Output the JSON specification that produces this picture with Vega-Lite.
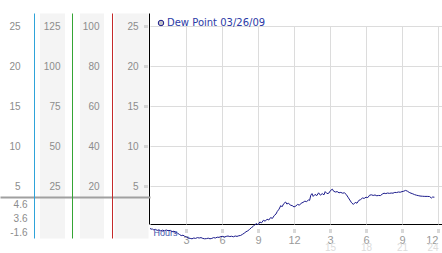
{
  "$schema": "https://vega.github.io/schema/vega-lite/v6.json",
  "width": 292,
  "height": 225,
  "autosize": {"type": "none"},
  "padding": {"left": 150, "top": 13, "right": 0, "bottom": 15},
  "background": "white",
  "config": {
    "view": {"stroke": null},
    "axis": {"labelFont": "Liberation Sans", "titleFont": "Liberation Sans", "labelFontSize": 10, "labelColor": "#8c8c8c", "grid": false, "title": null, "domainColor": "#888888"}
  },
  "datasets": {
    "dew": [
      {"h": 0.0, "v": -0.3}, {"h": 0.1, "v": -0.4}, {"h": 0.2, "v": -0.35}, {"h": 0.3, "v": -0.5}, {"h": 0.45, "v": -0.42},
      {"h": 0.6, "v": -0.55}, {"h": 0.75, "v": -0.48}, {"h": 0.9, "v": -0.62}, {"h": 1.05, "v": -0.52}, {"h": 1.2, "v": -0.6},
      {"h": 1.35, "v": -0.5}, {"h": 1.5, "v": -0.58}, {"h": 1.7, "v": -0.55}, {"h": 1.85, "v": -0.7}, {"h": 2.0, "v": -0.65},
      {"h": 2.15, "v": -0.8}, {"h": 2.3, "v": -0.9}, {"h": 2.45, "v": -1.05}, {"h": 2.6, "v": -1.2}, {"h": 2.75, "v": -1.15},
      {"h": 2.9, "v": -1.3}, {"h": 3.05, "v": -1.4}, {"h": 3.2, "v": -1.5}, {"h": 3.35, "v": -1.55}, {"h": 3.5, "v": -1.6},
      {"h": 3.65, "v": -1.5}, {"h": 3.8, "v": -1.55}, {"h": 3.95, "v": -1.45}, {"h": 4.1, "v": -1.5}, {"h": 4.25, "v": -1.45},
      {"h": 4.4, "v": -1.55}, {"h": 4.55, "v": -1.6}, {"h": 4.7, "v": -1.58}, {"h": 4.85, "v": -1.52}, {"h": 5.0, "v": -1.6},
      {"h": 5.15, "v": -1.55}, {"h": 5.3, "v": -1.45}, {"h": 5.45, "v": -1.5}, {"h": 5.6, "v": -1.4}, {"h": 5.75, "v": -1.42},
      {"h": 5.9, "v": -1.32}, {"h": 6.05, "v": -1.3}, {"h": 6.2, "v": -1.38}, {"h": 6.35, "v": -1.3}, {"h": 6.5, "v": -1.25},
      {"h": 6.65, "v": -1.32}, {"h": 6.8, "v": -1.28}, {"h": 6.95, "v": -1.35}, {"h": 7.1, "v": -1.25}, {"h": 7.25, "v": -1.3},
      {"h": 7.4, "v": -1.22}, {"h": 7.55, "v": -1.18}, {"h": 7.7, "v": -1.05}, {"h": 7.85, "v": -0.9}, {"h": 8.0, "v": -0.72},
      {"h": 8.15, "v": -0.6}, {"h": 8.3, "v": -0.42}, {"h": 8.45, "v": -0.2}, {"h": 8.6, "v": -0.05}, {"h": 8.75, "v": 0.18},
      {"h": 8.9, "v": 0.3}, {"h": 9.0, "v": 0.15}, {"h": 9.15, "v": 0.5}, {"h": 9.3, "v": 0.4}, {"h": 9.45, "v": 0.72},
      {"h": 9.6, "v": 0.6}, {"h": 9.75, "v": 0.85}, {"h": 9.9, "v": 0.75}, {"h": 10.05, "v": 1.05}, {"h": 10.2, "v": 0.95},
      {"h": 10.35, "v": 1.3}, {"h": 10.5, "v": 1.5}, {"h": 10.6, "v": 1.8}, {"h": 10.75, "v": 2.1}, {"h": 10.9, "v": 2.55},
      {"h": 11.0, "v": 2.4}, {"h": 11.15, "v": 2.8}, {"h": 11.3, "v": 3.0}, {"h": 11.4, "v": 2.75}, {"h": 11.55, "v": 2.85},
      {"h": 11.7, "v": 2.6}, {"h": 11.85, "v": 2.55}, {"h": 12.0, "v": 2.38}, {"h": 12.15, "v": 2.5}, {"h": 12.3, "v": 2.7},
      {"h": 12.45, "v": 2.6}, {"h": 12.6, "v": 2.85}, {"h": 12.75, "v": 2.95}, {"h": 12.9, "v": 3.1}, {"h": 13.05, "v": 3.05},
      {"h": 13.2, "v": 3.25}, {"h": 13.3, "v": 3.2}, {"h": 13.4, "v": 3.85}, {"h": 13.5, "v": 4.05}, {"h": 13.6, "v": 3.7},
      {"h": 13.75, "v": 3.95}, {"h": 13.9, "v": 3.8}, {"h": 14.05, "v": 4.15}, {"h": 14.2, "v": 3.85}, {"h": 14.35, "v": 4.05},
      {"h": 14.5, "v": 3.9}, {"h": 14.6, "v": 4.3}, {"h": 14.75, "v": 4.05}, {"h": 14.9, "v": 4.1}, {"h": 15.05, "v": 4.45},
      {"h": 15.2, "v": 4.6}, {"h": 15.3, "v": 4.35}, {"h": 15.45, "v": 4.25}, {"h": 15.6, "v": 4.3}, {"h": 15.75, "v": 4.15},
      {"h": 15.9, "v": 4.2}, {"h": 16.05, "v": 4.1}, {"h": 16.2, "v": 4.15}, {"h": 16.35, "v": 3.95}, {"h": 16.5, "v": 3.6},
      {"h": 16.65, "v": 3.25}, {"h": 16.8, "v": 2.9}, {"h": 16.95, "v": 2.7}, {"h": 17.1, "v": 2.95}, {"h": 17.25, "v": 2.85},
      {"h": 17.4, "v": 3.2}, {"h": 17.55, "v": 3.3}, {"h": 17.7, "v": 3.5}, {"h": 17.85, "v": 3.45}, {"h": 18.0, "v": 3.6},
      {"h": 18.15, "v": 3.55}, {"h": 18.3, "v": 3.85}, {"h": 18.45, "v": 3.9}, {"h": 18.6, "v": 3.82}, {"h": 18.75, "v": 3.88},
      {"h": 18.9, "v": 3.78}, {"h": 19.05, "v": 3.82}, {"h": 19.2, "v": 3.8}, {"h": 19.35, "v": 3.98}, {"h": 19.5, "v": 4.1},
      {"h": 19.65, "v": 4.05}, {"h": 19.8, "v": 4.12}, {"h": 19.95, "v": 4.08}, {"h": 20.1, "v": 4.12}, {"h": 20.25, "v": 4.1},
      {"h": 20.4, "v": 4.2}, {"h": 20.55, "v": 4.18}, {"h": 20.7, "v": 4.25}, {"h": 20.85, "v": 4.22}, {"h": 21.0, "v": 4.3},
      {"h": 21.15, "v": 4.35}, {"h": 21.3, "v": 4.45}, {"h": 21.45, "v": 4.35}, {"h": 21.6, "v": 4.2}, {"h": 21.75, "v": 4.1},
      {"h": 21.9, "v": 4.02}, {"h": 22.05, "v": 3.92}, {"h": 22.2, "v": 3.85}, {"h": 22.35, "v": 3.8}, {"h": 22.5, "v": 3.75},
      {"h": 22.7, "v": 3.72}, {"h": 22.9, "v": 3.7}, {"h": 23.1, "v": 3.7}, {"h": 23.3, "v": 3.68}, {"h": 23.45, "v": 3.5},
      {"h": 23.55, "v": 3.62}, {"h": 23.7, "v": 3.6}
    ]
  },
  "data": {"name": "dew"},
  "resolve": {"axis": {"x": "independent", "y": "independent"}},
  "layer": [
    {
      "mark": {"type": "line", "opacity": 0},
      "encoding": {
        "x": {"field": "h", "type": "quantitative", "scale": {"domain": [0, 24.333], "nice": false, "zero": false},
              "axis": {"orient": "bottom", "offset": -14, "domainColor": "#000000", "domainWidth": 1, "values": [0], "tickSize": -211, "tickColor": "#000000", "tickOffset": -1, "labels": false, "grid": false, "title": null}},
        "y": {"field": "v", "type": "quantitative", "scale": {"domain": [-1.5, 26.625], "nice": false, "zero": false},
              "axis": {"orient": "left", "offset": 98, "domainColor": "#f4f4f4", "domainWidth": 25, "ticks": false, "labels": false, "grid": false, "title": null}}
      }
    },
    {
      "mark": {"type": "line", "opacity": 0},
      "encoding": {
        "x": {"field": "h", "type": "quantitative", "scale": {"domain": [0, 24.333], "nice": false, "zero": false},
              "axis": {"orient": "bottom", "offset": -14, "domain": false, "values": [3, 6, 9, 12, 15, 18, 21, 24], "tickSize": -198, "tickColor": "#dcdcdc", "labels": false, "grid": false, "title": null}},
        "y": {"field": "v", "type": "quantitative", "scale": {"domain": [-1.5, 26.625], "nice": false, "zero": false},
              "axis": {"orient": "left", "offset": 58.5, "domainColor": "#f4f4f4", "domainWidth": 24, "ticks": false, "labels": false, "grid": false, "title": null}}
      }
    },
    {
      "mark": {"type": "line", "opacity": 0},
      "encoding": {
        "x": {"field": "h", "type": "quantitative", "scale": {"domain": [0, 24.333], "nice": false, "zero": false},
              "axis": {"orient": "bottom", "offset": -9, "domain": false, "values": [3, 6, 9, 12, 15, 18, 21, 24], "tickSize": 4, "tickWidth": 3, "tickDash": [1, 1], "tickColor": "#b4b4b4",
                       "labelExpr": "datum.value % 12 == 0 ? '12' : '' + (datum.value % 12)", "labelColor": "#9a9a9a", "labelFontSize": 11, "labelPadding": 1, "labelFlush": 5, "grid": false,
                       "title": "Hours", "titleX": 3, "titleY": -1, "titleAnchor": "start", "titleAlign": "left", "titleBaseline": "top", "titleColor": "#4455aa", "titleFontSize": 9, "titleFontWeight": "normal"}},
        "y": {"field": "v", "type": "quantitative", "scale": {"domain": [-1.5, 26.625], "nice": false, "zero": false},
              "axis": {"orient": "left", "offset": 19, "domainColor": "#f4f4f4", "domainWidth": 34, "ticks": false, "labels": false, "grid": false, "title": null}}
      }
    },
    {
      "mark": {"type": "line", "opacity": 0},
      "encoding": {
        "x": {"field": "h", "type": "quantitative", "scale": {"domain": [0, 24.333], "nice": false, "zero": false},
              "axis": {"orient": "bottom", "offset": -1, "domain": false, "ticks": false, "values": [15, 18, 21, 24], "labelColor": "#dcdcdc", "labelFontSize": 10, "labelPadding": 5, "labelFlush": 5, "grid": false, "title": null}},
        "y": {"field": "v", "type": "quantitative", "scale": {"domain": [-1.5, 26.625], "nice": false, "zero": false},
              "axis": {"orient": "left", "offset": 0, "domain": false, "labels": false, "values": [3.6], "tickSize": 150, "tickWidth": 2, "tickColor": "#a0a0a0", "grid": false, "title": null}}
      }
    },
    {
      "mark": {"type": "line", "opacity": 0},
      "encoding": {
        "x": {"field": "h", "type": "quantitative", "scale": {"domain": [0, 24.333], "nice": false, "zero": false}, "axis": null},
        "y": {"field": "v", "type": "quantitative", "scale": {"domain": [-1.5, 26.625], "nice": false, "zero": false},
              "axis": {"orient": "left", "offset": 78, "domain": true, "domainColor": "#35a535", "ticks": false, "values": [5, 10, 15, 20, 25], "labelExpr": "'' + (datum.value * 5)", "labelPadding": 12, "grid": false, "title": null}}
      }
    },
    {
      "mark": {"type": "line", "opacity": 0},
      "encoding": {
        "x": {"field": "h", "type": "quantitative", "scale": {"domain": [0, 24.333], "nice": false, "zero": false}, "axis": null},
        "y": {"field": "v", "type": "quantitative", "scale": {"domain": [-1.5, 26.625], "nice": false, "zero": false},
              "axis": {"orient": "left", "offset": 38, "domain": true, "domainColor": "#c42a2a", "ticks": false, "values": [5, 10, 15, 20, 25], "labelExpr": "'' + (datum.value * 4)", "labelPadding": 13, "grid": false, "title": null}}
      }
    },
    {
      "mark": {"type": "line", "opacity": 0},
      "encoding": {
        "x": {"field": "h", "type": "quantitative", "scale": {"domain": [0, 24.333], "nice": false, "zero": false}, "axis": null},
        "y": {"field": "v", "type": "quantitative", "scale": {"domain": [-1.5, 26.625], "nice": false, "zero": false},
              "axis": {"orient": "left", "offset": 116, "domain": true, "domainColor": "#2ea3d9", "ticks": false, "values": [5, 10, 15, 20, 25], "labelPadding": 14, "grid": false,
                       "title": ["4.6", "3.6", "-1.6"], "titleAngle": 0, "titleAlign": "right", "titleBaseline": "top", "titleX": -7, "titleY": 186, "titleLineHeight": 14, "titleFontSize": 10, "titleColor": "#8c8c8c", "titleFontWeight": "normal"}}
      }
    },
    {
      "mark": {"type": "line", "opacity": 0},
      "encoding": {
        "x": {"field": "h", "type": "quantitative", "scale": {"domain": [0, 24.333], "nice": false, "zero": false}, "axis": null},
        "y": {"field": "v", "type": "quantitative", "scale": {"domain": [-1.5, 26.625], "nice": false, "zero": false},
              "axis": {"orient": "left", "offset": 3, "domain": false, "values": [5, 10, 15, 20, 25], "tickSize": 4, "tickWidth": 3, "tickDash": [1, 1], "tickColor": "#b4b4b4", "labelPadding": 5, "grid": false, "title": null}}
      }
    },
    {
      "mark": {"type": "line", "opacity": 0},
      "encoding": {
        "x": {"field": "h", "type": "quantitative", "scale": {"domain": [0, 24.333], "nice": false, "zero": false}, "axis": null},
        "y": {"field": "v", "type": "quantitative", "scale": {"domain": [-1.5, 26.625], "nice": false, "zero": false},
              "axis": {"orient": "left", "offset": 0, "domain": false, "ticks": false, "labels": false, "values": [5, 10, 15, 20, 25], "grid": true, "gridColor": "#dcdcdc", "title": null}}
      }
    },
    {
      "mark": {"type": "line", "strokeWidth": 1},
      "encoding": {
        "x": {"field": "h", "type": "quantitative", "scale": {"domain": [0, 24.333], "nice": false, "zero": false}, "axis": null},
        "y": {"field": "v", "type": "quantitative", "scale": {"domain": [-1.5, 26.625], "nice": false, "zero": false}, "axis": null},
        "color": {"datum": "Dew Point 03/26/09", "type": "nominal", "scale": {"range": ["#1c1c8c"]},
                  "legend": {"orient": "none", "legendX": 6, "legendY": 5, "title": null, "padding": 0, "symbolType": "circle", "symbolSize": 30,
                             "labelFont": "DejaVu Sans", "labelFontSize": 10, "labelColor": "#2b3aa6", "labelOffset": 1,
                             "encode": {"symbols": {"update": {"fill": {"value": "#c4c4c4"}, "stroke": {"value": "#8a8a8a"}, "strokeWidth": {"value": 1}}}}}}
      }
    }
  ]
}
